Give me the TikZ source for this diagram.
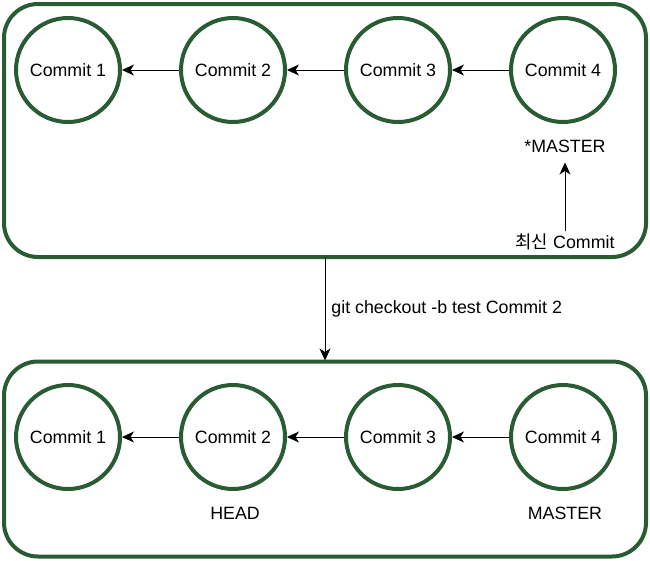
\documentclass[tikz,border=0pt]{standalone}
\usepackage{fontspec}
\setmainfont{Liberation Sans}
\newfontfamily\krfont{Noto Sans CJK KR}
\usepackage{xcolor}
\usetikzlibrary{arrows.meta, positioning}
\definecolor{gitgreen}{RGB}{42,92,52}

\begin{document}
\begin{tikzpicture}[
    node distance=57pt,
    branch/.style={rectangle, draw=gitgreen, line width=4pt, rounded corners=34pt, minimum width=642pt},
    commit/.style={circle, draw=gitgreen, line width=4pt, minimum size=104pt, inner sep=0pt, font=\fontsize{17.8}{21}\selectfont},
    tag/.style={font=\fontsize{17.8}{21}\selectfont, inner sep=2pt},
    line/.style={draw, line width=0.9pt, -{Stealth[length=12pt, width=11pt, inset=3.5pt]}}
]
\useasboundingbox (0,0) rectangle (650pt,-560pt);

% Boxes
\node[branch, minimum height=253pt] (before) at (325pt,-130.5pt) {};
\node[branch, minimum height=195pt] (after) at (325pt,-459pt) {};

% Nodes (before)
\node[commit] (b4) at (563pt,-70pt) {Commit 4};
\node[commit, left=of b4] (b3) {Commit 3};
\node[commit, left=of b3] (b2) {Commit 2};
\node[commit, left=of b2] (b1) {Commit 1};
\node[tag] (master) at (565pt,-146pt) {*MASTER};
\node[tag] (latest) at (565pt,-242pt) {{\krfont 최신} Commit};

% Nodes (after)
\node[commit] (a4) at (563pt,-437pt) {Commit 4};
\node[commit, left=of a4] (a3) {Commit 3};
\node[commit, left=of a3] (a2) {Commit 2};
\node[commit, left=of a2] (a1) {Commit 1};
\node[tag] (head) at (235pt,-513pt) {HEAD};
\node[tag] (master2) at (565pt,-513pt) {MASTER};

% Paths
\path[line] (b4) -- (b3);
\path[line] (b3) -- (b2);
\path[line] (b2) -- (b1);
\path[line, shorten <=1pt, shorten >=8pt] (latest) -- (master);
\path[line] (a4) -- (a3);
\path[line] (a3) -- (a2);
\path[line] (a2) -- (a1);
\path[line, shorten <=-2pt, shorten >=-1pt] (before.south) -- node[right, tag, xshift=4pt] {git checkout -b test Commit 2} (after.north);

\end{tikzpicture}
\end{document}
